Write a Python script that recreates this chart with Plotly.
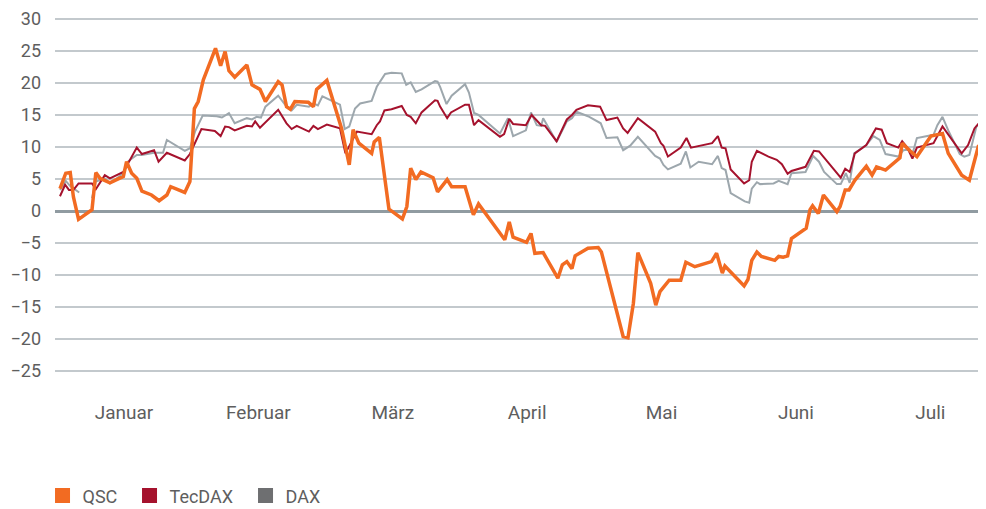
import plotly.graph_objects as go

# x = trading day index since start of year, y = performance in %
qsc_x = [0, 0.9, 1.6, 2.1, 2.9, 5.0, 5.6, 6.25, 7.8, 9.9, 10.4, 11.2, 12.0, 12.8, 14.3, 15.5, 16.7, 17.3,
         19.5, 20.3, 21.0, 21.6, 22.4, 24.3, 25.1, 25.8, 26.4, 27.3, 29.2, 30.0, 31.25, 32.1, 34.1, 34.7,
         35.4, 36.0, 36.7, 38.8, 39.6, 40.1, 41.7, 43.0, 44.0, 45.2, 45.8, 46.7, 48.7, 49.1, 49.9, 51.4,
         53.5, 54.2, 54.8, 55.6, 56.4, 58.3, 59.0, 60.5, 61.2, 63.3, 64.6, 65.4, 68.2, 69.5, 70.2, 70.8,
         72.9, 73.6, 74.2, 75.5, 77.8, 78.5, 79.2, 80.0, 80.5, 82.5, 84.1, 84.6, 88.0, 88.75, 89.6, 90.3,
         92.3, 93.1, 93.75, 95.2, 97.0, 97.8, 99.2, 101.8, 102.6, 103.5, 103.9, 106.9, 107.5, 108.1,
         108.9, 109.6, 111.7, 112.3, 113.0, 113.7, 114.3, 116.6, 117.2, 117.6, 118.5, 119.3, 121.4,
         121.9, 122.7, 123.3, 124.2, 126.0, 126.9, 127.6, 129.0, 131.25, 131.6, 132.8, 133.9, 136.1,
         137.9, 138.8, 140.9, 142.1, 143.5, 144.7]
qsc_y = [3.5, 5.9, 6.0, 2.2, -1.3, 0.2, 6.0, 5.1, 4.4, 5.4, 7.7, 5.9, 5.1, 3.1, 2.5, 1.6, 2.5, 3.8,
         2.9, 4.6, 16.0, 17.1, 20.5, 25.4, 22.7, 24.9, 21.9, 20.9, 22.8, 19.7, 19.0, 17.1, 20.2, 19.7,
         16.3, 15.9, 17.1, 17.0, 16.3, 19.0, 20.4, 16.3, 12.9, 7.2, 12.7, 10.6, 9.0, 10.8, 11.5, 0.3,
         -1.25, 0.7, 6.7, 4.9, 6.1, 5.2, 3.0, 4.9, 3.8, 3.8, -0.6, 1.1, -2.7, -4.5, -1.7, -4.1,
         -4.9, -3.5, -6.6, -6.5, -10.5, -8.4, -7.9, -9.0, -7.0, -5.8, -5.7, -6.4, -19.6, -19.8, -14.4, -6.5,
         -11.3, -14.7, -12.6, -10.8, -10.8, -8.0, -8.7, -7.9, -6.6, -9.7, -8.6, -11.7, -10.7, -7.7,
         -6.4, -7.1, -7.7, -7.1, -7.2, -7.0, -4.3, -2.7, 0.2, 0.8, -0.4, 2.5, -0.1,
         0.7, 3.3, 3.3, 4.8, 7.0, 5.6, 6.9, 6.4, 8.3, 10.6, 9.4, 8.5, 11.7,
         12.1, 9.0, 5.6, 4.8, 10.1, 10.5]

tecdax_x = [0, 0.8, 1.4, 2.1, 2.9, 5.0, 5.6, 7.0, 7.8, 9.9, 12.0, 12.8, 14.7, 15.4, 16.7, 19.5, 20.3,
            22.1, 24.2, 25.1, 25.8, 26.4, 27.3, 29.2, 30.0, 30.5, 31.25, 34.1, 35.4, 36.2, 37.0, 38.9,
            39.6, 40.3, 41.7, 43.75, 44.6, 46.4, 48.7, 49.5, 50.0, 50.7, 51.8, 53.4, 54.2, 54.8, 55.6,
            56.5, 58.6, 59.0, 59.4, 60.5, 61.1, 63.3, 63.9, 64.7, 65.4, 68.75, 69.4, 70.2, 70.8, 72.8,
            73.7, 74.5, 75.2, 75.8, 77.6, 79.2, 80.0, 80.7, 82.5, 84.4, 85.4, 87.1, 88.0, 88.7, 90.3,
            93.0, 93.9, 94.3, 95.0, 97.0, 97.9, 98.6, 101.9, 102.8, 103.4, 104.0, 104.8, 106.9, 107.7,
            108.1, 108.9, 110.7, 112.0, 112.8, 113.7, 114.3, 116.5, 117.8, 118.6, 122.0, 122.7, 123.4,
            124.2, 126.0, 127.5, 128.4, 129.2, 131.0, 131.6, 132.4, 133.2, 133.9, 136.5, 137.9, 140.9,
            141.9, 142.9, 143.5, 144.7]
tecdax_y = [2.3, 4.1, 3.3, 3.3, 4.3, 4.3, 3.4, 5.6, 5.1, 6.1, 9.9, 8.9, 9.5, 7.7, 9.1, 7.9, 8.9,
            12.8, 12.5, 11.7, 13.2, 13.1, 12.6, 13.3, 13.2, 14.0, 13.0, 15.8, 13.7, 12.8, 13.3, 12.4,
            13.3, 12.8, 13.5, 12.9, 9.0, 12.4, 12.0, 13.4, 14.0, 15.7, 15.9, 16.4, 15.0, 14.7, 13.7,
            15.4, 17.3, 17.2, 16.3, 14.5, 15.4, 16.6, 16.6, 13.4, 14.2, 11.6, 12.0, 14.4, 13.6, 13.4,
            15.0, 14.2, 13.4, 13.3, 10.9, 14.3, 15.0, 15.8, 16.5, 16.3, 14.2, 14.6, 12.9, 12.2, 14.5,
            12.4, 10.6, 10.2, 8.5, 9.9, 11.4, 9.9, 10.6, 11.7, 9.9, 9.8, 6.5, 4.3, 4.8,
            7.7, 9.4, 8.5, 8.0, 7.3, 5.8, 6.25, 6.9, 9.4, 9.3, 5.2, 6.6, 6.1,
            9.0, 10.3, 12.9, 12.7, 10.6, 9.9, 10.9, 9.9, 8.2, 9.9, 10.6, 13.2, 9.0,
            10.3, 12.9, 13.6, 13.8]

dax_x = [0, 0.9, 1.6, 3.0, None, 5.0, 5.6, 7.0, 7.8, 9.9, 10.7, 12.0, 12.8, 14.7, 16.1, 16.7, 19.5,
         20.3, 21.1, 22.3, 24.5, 25.3, 26.4, 27.3, 29.2, 30.0, 30.7, 31.4, 32.1, 34.1, 35.4, 36.2, 37.0,
         38.9, 39.6, 40.3, 41.0, 43.75, 44.5, 45.2, 46.1, 46.9, 48.7, 49.5, 50.8, 51.8, 53.4, 54.1,
         54.8, 55.6, 56.5, 58.6, 59.0, 59.4, 60.4, 61.2, 63.3, 63.9, 64.7, 65.4, 68.75, 70.0, 70.8,
         72.8, 73.6, 74.5, 75.2, 75.5, 77.6, 79.2, 80.0, 80.7, 82.5, 84.5, 85.4, 87.1, 88.0, 89.1,
         90.3, 93.0, 93.75, 94.3, 95.0, 97.0, 97.8, 98.5, 99.8, 101.9, 102.8, 103.4, 104.0, 104.8,
         107.0, 107.7, 108.1, 108.9, 109.4, 111.5, 112.3, 113.7, 114.3, 116.5, 117.7, 118.6, 119.4,
         121.4, 122.0, 122.8, 123.4, 124.1, 126.0, 127.1, 128.1, 129.0, 131.0, 131.8, 132.8, 133.2,
         133.9, 136.5, 137.1, 137.9, 138.8, 140.6, 141.3, 142.1, 143.2, 144.7]
dax_y = [3.3, 4.7, 3.9, 2.9, None, 2.0, 4.6, 5.1, 4.3, 5.9, 7.8, 8.75, 8.75, 9.1, 9.1, 11.1, 9.4,
         9.8, 12.4, 14.9, 14.8, 14.6, 15.3, 13.7, 14.5, 14.3, 14.7, 14.6, 16.3, 18.0, 16.3, 15.7, 16.6,
         16.3, 16.8, 16.5, 17.9, 16.6, 12.8, 13.2, 16.0, 16.8, 17.2, 19.4, 21.4, 21.6, 21.5, 19.7,
         20.1, 18.6, 19.0, 20.3, 20.2, 19.4, 16.7, 18.0, 19.8, 18.5, 15.3, 15.0, 12.1, 14.5, 11.7,
         12.6, 15.4, 13.4, 13.3, 14.5, 10.8, 14.0, 14.5, 15.5, 14.8, 13.7, 11.4, 11.5, 9.5, 10.2,
         11.6, 8.6, 8.2, 7.2, 6.5, 7.4, 9.3, 6.8, 7.7, 7.3, 8.6, 6.7, 6.4, 2.8,
         1.5, 1.3, 3.5, 4.5, 4.2, 4.3, 4.7, 4.2, 5.9, 6.1, 8.6, 7.7, 6.1,
         4.2, 4.2, 5.9, 4.4, 9.0, 10.3, 11.7, 11.1, 8.9, 8.5, 9.5, 9.6, 8.9,
         11.4, 11.9, 13.4, 14.7, 12.6, 8.9, 8.5, 8.75, 13.2, 14.5]

month_pos = [10, 31, 52, 73, 94, 115, 136]
month_labels = ["Januar", "Februar", "März", "April", "Mai", "Juni", "Juli"]
y_ticks = [-25, -20, -15, -10, -5, 0, 5, 10, 15, 20, 25, 30]

ORANGE = "#F26B22"
RED = "#A5122D"
GRAY_LINE = "#9DA7AD"
GRAY_LEG = "#6E6F71"
FONT = "Roboto"
TXT = "#5E5E5E"

fig = go.Figure()
fig.add_trace(go.Scatter(x=dax_x, y=dax_y, mode="lines", line=dict(color=GRAY_LINE, width=2),
                         showlegend=False, connectgaps=False, hoverinfo="skip"))
fig.add_trace(go.Scatter(x=tecdax_x, y=tecdax_y, mode="lines", line=dict(color=RED, width=2),
                         showlegend=False, hoverinfo="skip"))
fig.add_trace(go.Scatter(x=qsc_x, y=qsc_y, mode="lines", line=dict(color=ORANGE, width=3.5),
                         showlegend=False, hoverinfo="skip"))

for name, col, lw in [("QSC", ORANGE, 42), ("TecDAX", RED, 71), ("DAX", GRAY_LEG, 40)]:
    fig.add_trace(go.Scatter(x=[None], y=[None], mode="markers", name=name, legendwidth=lw,
                             marker=dict(symbol="square", size=15, color=col, line=dict(width=0))))

# page body has an 8px default margin: figure is sized so the page fills the 986x509 view
fig.update_layout(
    width=978, height=501,
    margin=dict(l=47, r=0, t=9, b=136, autoexpand=False),
    paper_bgcolor="white", plot_bgcolor="white",
    font=dict(family=FONT, size=19, color=TXT),
    showlegend=True,
    legend=dict(orientation="h", xref="container", yref="paper", x=0.0353, y=-0.345,
                xanchor="left", yanchor="middle", font=dict(family=FONT, size=18, color=TXT),
                itemclick=False, tracegroupgap=0),
    xaxis=dict(range=[-0.78, 144.7], tickmode="array", tickvals=month_pos, ticktext=month_labels,
               showgrid=False, zeroline=False, showline=False, ticks="", ticklabelstandoff=26,
               automargin=False, ticklabeloverflow="allow",
               tickfont=dict(family=FONT, size=19, color=TXT)),
    yaxis=dict(range=[-25.3, 30.3], tickmode="array", tickvals=y_ticks,
               showgrid=True, gridcolor="#C3C9CD", gridwidth=2,
               zeroline=True, zerolinecolor="#909BA1", zerolinewidth=2.5,
               showline=False, ticks="", ticklabelstandoff=13, automargin=False,
               ticklabeloverflow="allow",
               tickfont=dict(family=FONT, size=18, color=TXT)),
)

fig.write_html("out.html")
